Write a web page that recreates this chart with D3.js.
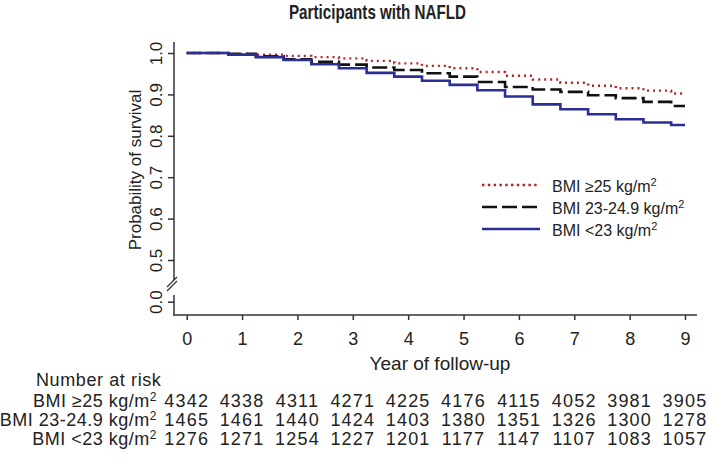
<!DOCTYPE html>
<html>
<head>
<meta charset="utf-8">
<script src="https://cdn.jsdelivr.net/npm/d3@7"></script>
<style>
  body { margin: 0; background: #fff; }
  svg text { font-family: "Liberation Sans", Arial, sans-serif; fill: #222; }
</style>
</head>
<body>
<div id="chart"></div>
<script>
// Kaplan-Meier curves, values (half-year steps)
const years = [0, 0.5, 1, 1.5, 2, 2.5, 3, 3.5, 4, 4.5, 5, 5.5, 6, 6.5, 7, 7.5, 8, 8.5, 9];
const survHigh = [1, 1, 0.998, 0.996, 0.993, 0.990, 0.987, 0.981, 0.975, 0.969, 0.963, 0.954, 0.945, 0.936, 0.928, 0.921, 0.915, 0.909, 0.902];
const survMid  = [1, 1, 0.998, 0.992, 0.985, 0.979, 0.972, 0.965, 0.959, 0.951, 0.943, 0.930, 0.918, 0.912, 0.906, 0.898, 0.891, 0.882, 0.872];
const survLow  = [1, 1, 0.996, 0.990, 0.983, 0.973, 0.963, 0.952, 0.943, 0.933, 0.923, 0.910, 0.895, 0.876, 0.864, 0.852, 0.840, 0.832, 0.826];

const xTicks = [0, 1, 2, 3, 4, 5, 6, 7, 8, 9];
const yTicks = [0, 0.5, 0.6, 0.7, 0.8, 0.9, 1.0];

const groupNames = ["BMI \u226525 kg/m", "BMI 23-24.9 kg/m", "BMI <23 kg/m"];
const atRiskHigh = [4342, 4338, 4311, 4271, 4225, 4176, 4115, 4052, 3981, 3905];
const atRiskMid  = [1465, 1461, 1440, 1424, 1403, 1380, 1351, 1326, 1300, 1278];
const atRiskLow  = [1276, 1271, 1254, 1227, 1201, 1177, 1147, 1107, 1083, 1057];

const width = 709, height = 460;

const svg = d3.select("#chart")
    .append("svg")
    .attr("width", width)
    .attr("height", height);

// scales (y is broken between 0 and 0.5)
const x = d3.scaleLinear().domain([0, 9]).range([186.7, 685]);
const y = d3.scaleLinear().domain([0, 0.5, 1]).range([301.7, 260, 53]);

const axisColor = "#333";

// title
svg.append("text")
    .attr("x", 289).attr("y", 19)
    .attr("font-size", 21)
    .attr("font-weight", "bold")
    .attr("textLength", 177)
    .attr("lengthAdjust", "spacingAndGlyphs")
    .text("Participants with NAFLD");

// y axis
const yAxis = svg.append("g")
    .attr("transform", "translate(174,0)")
    .call(d3.axisLeft(y).tickValues(yTicks).tickSize(6).tickFormat(d3.format(".1f")));
yAxis.select(".domain").remove();
yAxis.selectAll(".tick line").attr("stroke", axisColor).attr("stroke-width", 1.5);
yAxis.selectAll(".tick text")
    .attr("x", 0).attr("y", 0).attr("dy", 0)
    .attr("transform", "translate(-12,0) rotate(-90)")
    .attr("text-anchor", "middle")
    .attr("font-size", 17)
    .attr("fill", "#222");

// y axis line with break
svg.append("line").attr("x1", 174).attr("x2", 174).attr("y1", 42).attr("y2", 280)
    .attr("stroke", axisColor).attr("stroke-width", 1.5);
svg.append("line").attr("x1", 174).attr("x2", 174).attr("y1", 295).attr("y2", 315)
    .attr("stroke", axisColor).attr("stroke-width", 1.5);
[0, 4].forEach(o => {
    svg.append("line")
        .attr("x1", 167).attr("y1", 291 - o)
        .attr("x2", 177).attr("y2", 281 - o)
        .attr("stroke", axisColor).attr("stroke-width", 1.2);
});

// x axis
svg.append("line").attr("x1", 173).attr("x2", 697).attr("y1", 315).attr("y2", 315)
    .attr("stroke", axisColor).attr("stroke-width", 1.5);
const xAxis = svg.append("g")
    .attr("transform", "translate(0,315)")
    .call(d3.axisBottom(x).tickValues(xTicks).tickSize(5).tickFormat(d3.format("d")));
xAxis.select(".domain").remove();
xAxis.selectAll(".tick line").attr("stroke", axisColor).attr("stroke-width", 1.5);
xAxis.selectAll(".tick text")
    .attr("y", 30).attr("dy", 0)
    .attr("font-size", 18)
    .attr("fill", "#222");

// axis titles
svg.append("text")
    .attr("transform", "translate(141,170) rotate(-90)")
    .attr("text-anchor", "middle")
    .attr("font-size", 17)
    .text("Probability of survival");

svg.append("text")
    .attr("x", 440).attr("y", 370)
    .attr("text-anchor", "middle")
    .attr("font-size", 19)
    .text("Year of follow-up");

// curves
const series = [
    { vals: survHigh, color: "#b0282a", dash: "2,4", width: 2.4 },
    { vals: survMid, color: "#111", dash: "15,5", width: 2.6 },
    { vals: survLow, color: "#2a2f96", dash: null, width: 2.6 }
];

const line = d3.line()
    .x((d, i) => x(years[i]))
    .y(d => y(d))
    .curve(d3.curveStep);

series.forEach(s => {
    svg.append("path")
        .datum(s.vals)
        .attr("d", line)
        .attr("fill", "none")
        .attr("stroke", s.color)
        .attr("stroke-width", s.width)
        .attr("stroke-dasharray", s.dash);
});

// legend
const legendY = [185, 207, 229];
series.forEach((s, i) => {
    svg.append("line")
        .attr("x1", 482).attr("x2", 540)
        .attr("y1", legendY[i]).attr("y2", legendY[i])
        .attr("stroke", s.color)
        .attr("stroke-width", s.width)
        .attr("stroke-dasharray", i === 0 ? "2.5,3.3" : s.dash);
    const t = svg.append("text")
        .attr("x", 552).attr("y", legendY[i] + 7)
        .attr("font-size", 16)
        .text(groupNames[i]);
    t.append("tspan").attr("dy", -6).attr("font-size", 11).text("2");
});

// number at risk table
svg.append("text")
    .attr("x", 36).attr("y", 386)
    .attr("font-size", 18)
    .attr("letter-spacing", 0.6)
    .text("Number at risk");

const riskRows = [atRiskHigh, atRiskMid, atRiskLow];
const rowY = [407, 426, 445];
riskRows.forEach((row, i) => {
    const lab = svg.append("text")
        .attr("x", 157).attr("y", rowY[i])
        .attr("text-anchor", "end")
        .attr("font-size", 18)
        .attr("letter-spacing", 0.5)
        .text(groupNames[i]);
    lab.append("tspan").attr("dy", -6).attr("font-size", 12).text("2");

    svg.append("g")
        .selectAll("text")
        .data(row)
        .join("text")
        .attr("x", (d, j) => x(xTicks[j]))
        .attr("y", rowY[i])
        .attr("text-anchor", "middle")
        .attr("font-size", 18)
        .attr("letter-spacing", 1.2)
        .text(d => d);
});
</script>
</body>
</html>
